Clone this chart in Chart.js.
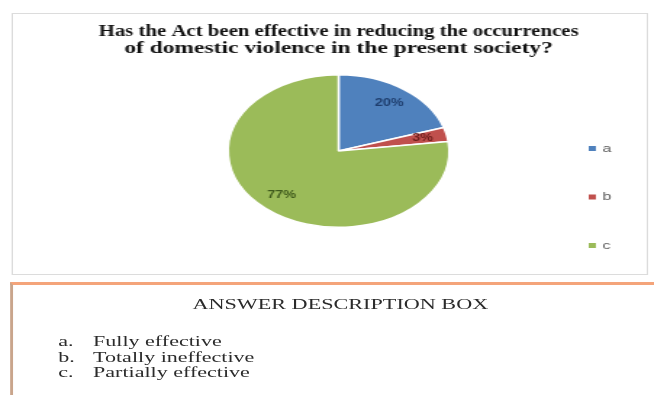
<!DOCTYPE html>
<html>
<head>
<meta charset="utf-8">
<script src="https://cdn.jsdelivr.net/npm/chart.js@4/dist/chart.umd.min.js"></script>
<style>
  html, body { margin: 0; padding: 0; background: #fff; overflow: hidden; }
  body { width: 654px; height: 395px; }
  /* the whole sheet is laid out narrow and widened horizontally */
  #sheet { position: absolute; left: 0; top: 0; width: 451px; height: 395px;
           transform: scaleX(1.45); transform-origin: 0 0; }
  #frame { position: absolute; left: 7.6px; top: 13px; width: 439px; height: 262px;
           border: 1px solid #dcdcdc; box-sizing: border-box; }
  #pie { position: absolute; left: 7.6px; top: 13px; }
  #answers { position: absolute; left: 7.2px; top: 282px; width: 460px; height: 130px;
             border-top: 3px solid #f4a47a; border-left: 2px solid #c9a58c; box-sizing: border-box;
             font-family: "Liberation Serif", "DejaVu Serif", serif; color: #2b2b2b; font-size: 15.2px; }
  #answers h3 { margin: 0; position: absolute; top: 9.5px; left: 0; width: 451px; text-align: center;
                font-weight: normal; font-size: 15.3px; line-height: 17px; }
  #answers ol { list-style: none; margin: 0; padding: 0; position: absolute; top: 48px; left: 31px; }
  #answers li { line-height: 15.5px; height: 15.5px; white-space: nowrap; }
  #answers li span { display: inline-block; width: 24px; }
</style>
</head>
<body>
<div id="sheet">
  <div id="frame"></div>
  <canvas id="pie" width="439" height="262"></canvas>
  <div id="answers">
    <h3>ANSWER DESCRIPTION BOX</h3>
    <ol id="answerList"></ol>
  </div>
</div>
<script>
// Survey answer codes, share of respondents (%) and the meaning of each code
const answerCodes = ['a', 'b', 'c'];
const answerShares = [20, 3, 77];
const answerMeanings = ['Fully effective', 'Totally ineffective', 'Partially effective'];
const sliceColors = ['#4f81bd', '#c0504d', '#9bbb59'];
const labelColors = ['#1f3e6e', '#6e1e1c', '#3f5a1c'];
const chartTitle = ['Has the Act been effective in reducing the occurrences',
                    'of domestic violence in the present society?'];

// description list below the chart
const list = document.getElementById('answerList');
answerCodes.forEach((code, i) => {
  const li = document.createElement('li');
  li.innerHTML = '<span>' + code + '.</span>' + answerMeanings[i];
  list.appendChild(li);
});

// percentage written inside each slice
const sliceLabels = {
  id: 'sliceLabels',
  afterDatasetsDraw(chart) {
    const ctx = chart.ctx;
    const meta = chart.getDatasetMeta(0);
    const values = chart.data.datasets[0].data;
    const total = values.reduce((s, v) => s + v, 0);
    ctx.save();
    ctx.font = 'bold 10px "Liberation Sans", Arial, sans-serif';
    ctx.textAlign = 'center';
    ctx.textBaseline = 'middle';
    meta.data.forEach((arc, i) => {
      const p = arc.getProps(['x', 'y', 'startAngle', 'endAngle', 'outerRadius'], true);
      const mid = (p.startAngle + p.endAngle) / 2;
      const d = p.outerRadius * 0.78;
      ctx.fillStyle = labelColors[i];
      ctx.fillText(Math.round(values[i] / total * 100) + '%',
                   p.x + Math.cos(mid) * d, p.y + Math.sin(mid) * d);
    });
    ctx.restore();
  }
};

// key on the right: small colour square and the answer code
const sideKey = {
  id: 'sideKey',
  afterDraw(chart) {
    const ctx = chart.ctx;
    const ds = chart.data.datasets[0];
    ctx.save();
    ctx.font = '11px "Liberation Sans", Arial, sans-serif';
    ctx.textBaseline = 'middle';
    chart.data.labels.forEach((lab, i) => {
      const y = 135.5 + i * 48.5;
      ctx.fillStyle = ds.backgroundColor[i];
      ctx.fillRect(398, y - 2.5, 5, 5);
      ctx.fillStyle = '#595959';
      ctx.fillText(lab, 407.5, y);
    });
    ctx.restore();
  }
};

new Chart(document.getElementById('pie'), {
  type: 'pie',
  data: {
    labels: answerCodes,
    datasets: [{
      data: answerShares,
      backgroundColor: sliceColors,
      borderColor: '#ffffff',
      borderWidth: 1.5
    }]
  },
  options: {
    responsive: false,
    animation: false,
    devicePixelRatio: 1,
    layout: { padding: { top: 0, bottom: 47, left: 60, right: 48 } },
    plugins: {
      legend: { display: false },
      tooltip: { enabled: false },
      title: {
        display: true,
        text: chartTitle,
        color: '#111',
        font: { family: '"Liberation Serif", "DejaVu Serif", serif', size: 16.2, weight: 'bold', lineHeight: 1.06 },
        padding: { top: 10.4, bottom: 16.3 }
      }
    }
  },
  plugins: [sliceLabels, sideKey]
});
</script>
</body>
</html>
